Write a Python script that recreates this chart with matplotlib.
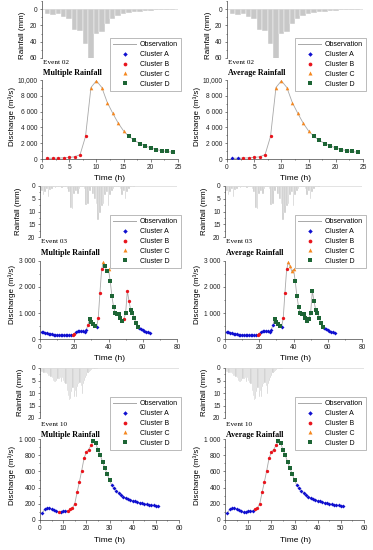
import matplotlib
matplotlib.use('Agg')
import matplotlib.pyplot as plt
from matplotlib.ticker import MultipleLocator
from matplotlib.lines import Line2D
import numpy as np

plt.rcParams['font.family'] = ['Liberation Sans', 'DejaVu Sans']

# ---- data ----
# event 02 (hourly)
e02_time = list(range(1, 25))
e02_q = [100, 100, 120, 150, 200, 280, 550, 2850, 9050, 9900, 9050, 7150, 5800, 4550,
         3550, 2850, 2350, 1950, 1650, 1400, 1200, 1050, 950, 850]
e02_multi = ['B'] * 8 + ['C'] * 7 + ['D'] * 9
e02_avg = ['A'] * 2 + ['B'] * 6 + ['C'] * 7 + ['D'] * 9
e02_rain_t = list(range(1, 26))
e02_rain = [6, 7.4, 6.5, 9.5, 12.4, 26, 27, 42.5, 63, 31, 28, 18, 12, 8, 6, 4.5,
            3.5, 3, 2.5, 2, 1.5, 1.2, 0.8, 0.5, 0.3]
e02_yticks = [0, 2000, 4000, 6000, 8000, 10000]
e02_ylabels = ['0', '2 000', '4 000', '6 000', '8 000', '10,000']

# event 03 (hourly)
e03_time = list(range(1, 65))
e03_q = [275, 265, 250, 230, 210, 195, 180, 170, 160, 155, 150, 145, 140, 140, 135, 135,
         135, 135, 170, 200, 260, 295, 305, 300, 290, 280, 330, 550, 780, 650, 580, 500,
         450, 800, 1780, 2680, 2950, 2800, 2600, 2680, 2230, 1640, 1220, 990, 970, 960,
         820, 700, 780, 990, 1850, 1450, 1100, 1000, 820, 620, 480, 420, 370, 330, 300,
         280, 260, 240]
e03_multi = (['A'] * 18 + ['B'] * 2 + ['A'] * 7 + ['B'] + ['D'] * 4 + ['A'] + ['B'] * 3 +
             ['C'] + ['D'] * 2 + ['C'] + ['D'] * 8 + ['B'] + ['D'] + ['B'] * 2 + ['D'] * 5 +
             ['A'] * 7)
e03_avg = (['A'] * 18 + ['B'] * 2 + ['A'] * 8 + ['D'] * 4 + ['A'] + ['B'] * 3 + ['C'] * 4 +
           ['D'] * 17 + ['A'] * 7)
e03_rain_t = list(range(1, 56))
e03_rain = [2.0, 3.5, 2.5, 1.0, 4.5, 1.5, 1.0, 0.5, 0.8, 0.5, 0.3, 0.5, 0.8, 0.5, 0.3, 1.0,
            2.5, 8.5, 9.0, 3.0, 2.0, 3.0, 1.0, 0.5, 0.5, 1.0, 7.5, 7.0, 2.0, 0.5, 3.0, 5.0,
            7.0, 13.5, 10.5, 8.0, 7.0, 3.5, 2.5, 8.0, 3.5, 2.0, 1.0, 0.5, 0.5, 0.5, 1.0, 3.5,
            2.0, 5.0, 2.5, 1.0, 0.5, 0.3, 0.2]
e03_yticks = [0, 1000, 2000, 3000]
e03_ylabels = ['0', '1 000', '2 000', '3 000']

# event 10 (hourly discharge, half-hourly rain)
e10_time = list(range(1, 52))
e10_q = [85, 130, 145, 150, 135, 120, 105, 95, 100, 115, 110, 115, 130, 150, 200, 340,
         470, 610, 760, 840, 870, 920, 970, 950, 870, 800, 720, 640, 570, 490, 430, 390,
         360, 330, 310, 290, 275, 262, 250, 240, 230, 222, 215, 208, 200, 195, 190, 185,
         180, 175, 170]
e10_multi = ['A'] * 7 + ['B'] + ['A'] * 3 + ['B'] * 11 + ['D'] * 8 + ['A'] * 21
e10_avg = ['A'] * 12 + ['B'] * 10 + ['D'] * 8 + ['A'] * 21
e10_rain_t = [0.25 + 0.5 * i for i in range(50)]
e10_rain = [1.0, 1.5, 1.5, 2.0, 2.0, 2.0, 2.5, 3.0, 3.0, 3.5, 4.0, 5.0, 5.5, 5.5, 5.0,
            4.5, 4.5, 4.0, 5.5, 4.0, 5.0, 6.0, 6.5, 9.0, 11.0, 12.8, 12.5, 9.5, 8.0, 11.5,
            9.0, 11.6, 7.5, 6.5, 6.0, 7.0, 10.3, 6.5, 5.0, 4.0, 3.0, 2.0, 1.5, 1.0, 0.8,
            0.5, 0.5, 0.3, 0.3, 0.2]
e10_yticks = [0, 200, 400, 600, 800, 1000]
e10_ylabels = ['0', '200', '400', '600', '800', '1 000']

cluster_names = ['A', 'B', 'C', 'D']
cluster_style = {
    'A': dict(marker='D', color='#1010d0', ms=2.0),
    'B': dict(marker='o', color='#e8141c', ms=2.4),
    'C': dict(marker='^', color='#f5871f', ms=2.6),
    'D': dict(marker='s', color='#1d6535', ms=2.3),
}

W, H = 373.0, 550.0


def rect(left, right, top, bottom):
    return [left / W, 1 - bottom / H, (right - left) / W, (bottom - top) / H]


def panel(fig, x0, pos, t, q, clusters, rt, rain, rwidth, xmax, xmaj, rmax, rmaj,
          qmax, qticks, qlabels, event, kind):
    xl, xr = pos['x'][0] + x0, pos['x'][1] + x0
    tick_fs = 4.8

    # rainfall (inverted bars)
    axr = fig.add_axes(rect(xl, xr, pos['r'][0], pos['r'][1]))
    axr.bar(rt, rain, width=rwidth, color='#c8c8c8', edgecolor='white', linewidth=0.3)
    axr.axhline(0, color='#d8d8d8', lw=0.5)
    axr.set_xlim(0, xmax)
    axr.set_ylim(rmax, pos['rtop'])
    axr.set_yticks(np.arange(0, rmax + 0.1, rmaj))
    axr.yaxis.set_minor_locator(MultipleLocator(rmaj / 2))
    axr.set_xticks([])
    for s in ['top', 'right', 'bottom']:
        axr.spines[s].set_visible(False)
    axr.spines['left'].set_linewidth(0.5)
    axr.spines['left'].set_color('#444444')
    axr.tick_params(axis='y', which='both', direction='out', labelsize=tick_fs, width=0.4,
                    length=1.8, pad=1.5, colors='#222222')
    axr.tick_params(axis='y', which='minor', length=1.0)
    axr.patch.set_alpha(0)

    # discharge
    axq = fig.add_axes(rect(xl, xr, pos['q'][0], pos['q'][1]))
    axq.plot(t, q, color='#a8a8a8', lw=0.6, zorder=1)
    for c in cluster_names:
        tt = [a for a, k in zip(t, clusters) if k == c]
        qq = [b for b, k in zip(q, clusters) if k == c]
        st = cluster_style[c]
        axq.plot(tt, qq, ls='none', marker=st['marker'], color=st['color'],
                 markersize=st['ms'], markeredgewidth=0, zorder=3)
    axq.set_xlim(0, xmax)
    axq.set_ylim(0, qmax)
    axq.xaxis.set_major_locator(MultipleLocator(xmaj))
    axq.xaxis.set_minor_locator(MultipleLocator(xmaj / 2))
    axq.set_yticks(qticks)
    axq.set_yticklabels(qlabels)
    axq.yaxis.set_minor_locator(MultipleLocator(qticks[1] / 2))
    for s in ['top', 'right']:
        axq.spines[s].set_visible(False)
    for s in ['left', 'bottom']:
        axq.spines[s].set_linewidth(0.5)
        axq.spines[s].set_color('#444444')
    axq.tick_params(which='both', direction='out', labelsize=tick_fs, width=0.4,
                    length=1.8, pad=1.5, colors='#222222')
    axq.tick_params(which='minor', length=1.0)
    axq.patch.set_alpha(0)

    # labels
    fig.text((x0 + pos['rl']) / W, 1 - pos['rc'] / H, 'Rainfall (mm)', rotation=90,
             ha='center', va='center', fontsize=5.8)
    fig.text((x0 + 12) / W, 1 - pos['qc'] / H, 'Discharge (m³/s)', rotation=90,
             ha='center', va='center', fontsize=5.8)
    fig.text((x0 + 110) / W, 1 - pos['tl'] / H, 'Time (h)', ha='center', va='center',
             fontsize=6)
    fig.text((x0 + pos['ex']) / W, 1 - pos['e1'] / H, 'Event ' + event, ha='left',
             va='center', fontsize=5.2, family=['Liberation Serif'])
    fig.text((x0 + pos['ex']) / W, 1 - pos['e2'] / H, kind + ' Rainfall', ha='left',
             va='center', fontsize=5.8, family=['Liberation Serif'], weight='bold')

    # legend
    handles = [Line2D([], [], color='#a8a8a8', lw=0.7)]
    for c in cluster_names:
        st = cluster_style[c]
        handles.append(Line2D([], [], ls='none', marker=st['marker'], color=st['color'],
                              markersize=st['ms'] + 0.3, markeredgewidth=0))
    labels = ['Observation'] + ['Cluster ' + c for c in cluster_names]
    leg = axq.legend(handles, labels, loc='upper right',
                     bbox_to_anchor=((x0 + 181) / W, 1 - pos['lg'] / H),
                     bbox_transform=fig.transFigure, fontsize=5.0, frameon=True,
                     fancybox=False, edgecolor='#888888', handlelength=3.3,
                     handletextpad=0.5, labelspacing=0.42, borderpad=0.45,
                     borderaxespad=0)
    leg.get_frame().set_linewidth(0.5)
    leg.set_zorder(10)


fig = plt.figure(figsize=(3.73, 5.5), dpi=100)

rows = [
    dict(q=(80, 159), r=(1, 58), rtop=-10, x=(42, 178), rl=23, rc=35, qc=116, tl=178,
         ex=43, e1=63, e2=73, lg=38),
    dict(q=(261, 339), r=(186, 237), rtop=0, x=(40, 177), rl=19, rc=211, qc=294, tl=358,
         ex=41, e1=242, e2=253, lg=215),
    dict(q=(439, 520), r=(368, 418), rtop=0, x=(40, 179), rl=20, rc=392, qc=475, tl=540,
         ex=41, e1=425, e2=435, lg=397),
]

for x0, kind, (c02, c03, c10) in [(0, 'Multiple', (e02_multi, e03_multi, e10_multi)),
                                  (185, 'Average', (e02_avg, e03_avg, e10_avg))]:
    panel(fig, x0, rows[0], e02_time, e02_q, c02, e02_rain_t, e02_rain, 1.0, 25, 5, 60, 20,
          10000, e02_yticks, e02_ylabels, '02', kind)
    panel(fig, x0, rows[1], e03_time, e03_q, c03, e03_rain_t, e03_rain, 1.0, 80, 20, 20, 5,
          3000, e03_yticks, e03_ylabels, '03', kind)
    panel(fig, x0, rows[2], e10_time, e10_q, c10, e10_rain_t, e10_rain, 0.5, 60, 10, 20, 5,
          1000, e10_yticks, e10_ylabels, '10', kind)

fig.savefig('out.png', dpi=100)
